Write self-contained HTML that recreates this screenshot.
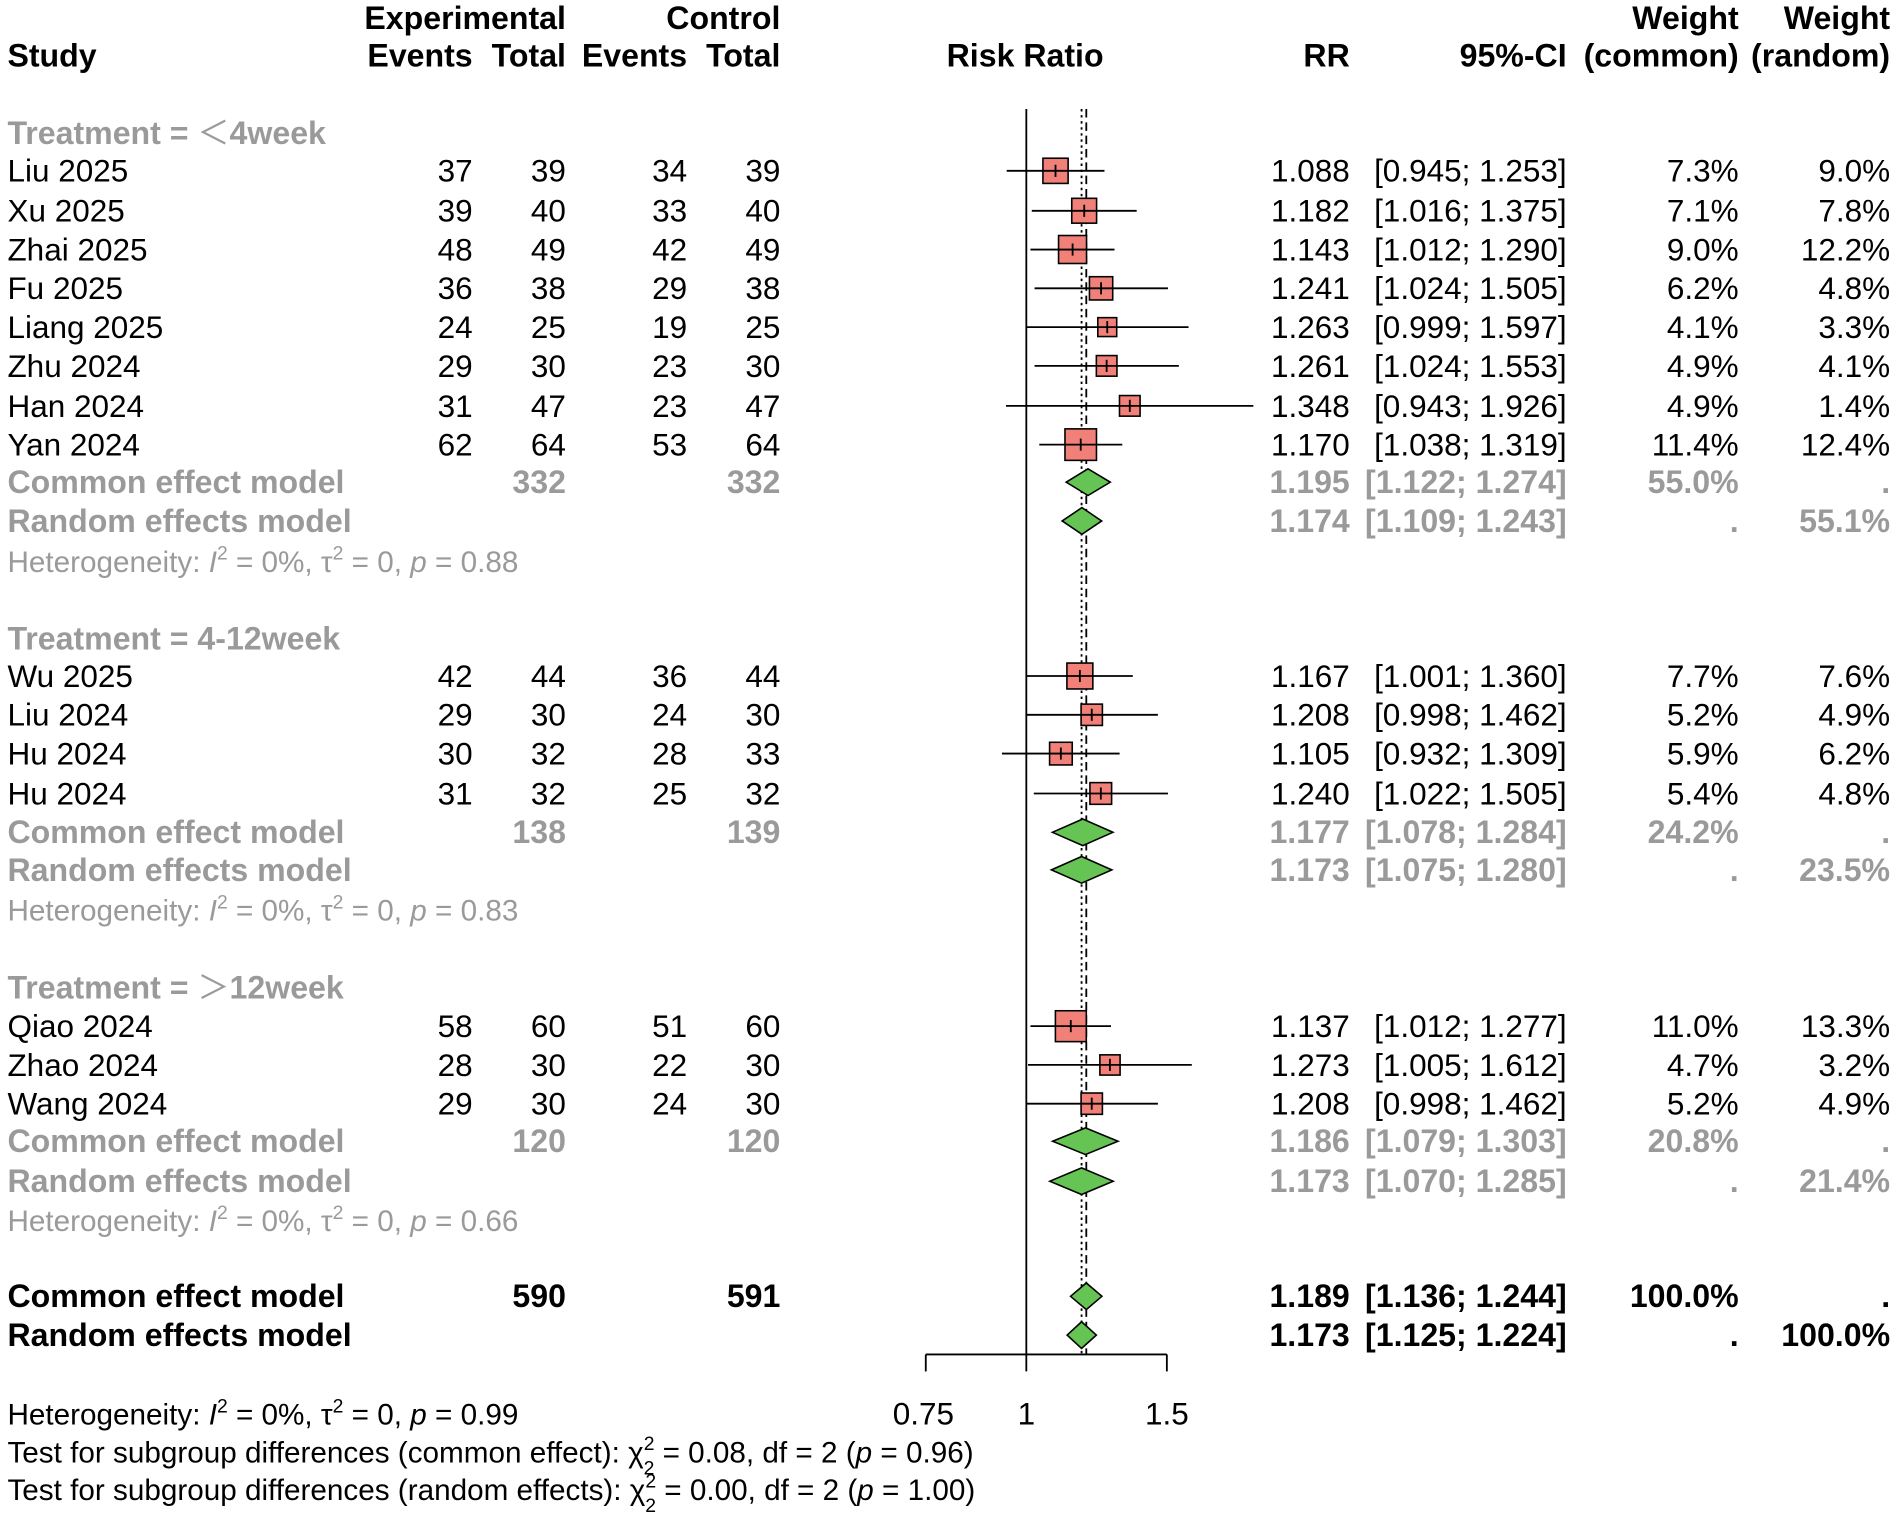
<!DOCTYPE html>
<html><head><meta charset="utf-8"><style>
html,body{margin:0;padding:0;background:#fff}
svg{display:block}
text{font-family:"Liberation Sans",Arial,sans-serif;font-size:26px;fill:#000}
.b{font-weight:bold;font-size:26.5px}
.g{fill:#9a9a9a}
.r{text-anchor:end}
.m{text-anchor:middle}
.sm{font-size:24.5px}
.sq{fill:#f08078;stroke:#000;stroke-width:1.3}
.di{fill:#66c455;stroke:#000;stroke-width:1.3}
.ln{stroke:#000;stroke-width:1.5}
</style></head><body>
<svg width="1900" height="1518" viewBox="0 0 1568 1253" xmlns="http://www.w3.org/2000/svg">
<text class="b r" x="467" y="24">Experimental</text>
<text class="b r" x="644" y="24">Control</text>
<text class="b" x="6" y="55">Study</text>
<text class="b r" x="390" y="55">Events</text>
<text class="b r" x="467" y="55">Total</text>
<text class="b r" x="567" y="55">Events</text>
<text class="b r" x="644" y="55">Total</text>
<text class="b m" x="846" y="55">Risk Ratio</text>
<text class="b r" x="1114" y="55">RR</text>
<text class="b r" x="1293" y="55">95%-CI</text>
<text class="b r" x="1435" y="24">Weight</text>
<text class="b r" x="1560" y="24">Weight</text>
<text class="b r" x="1435" y="55">(common)</text>
<text class="b r" x="1560" y="55">(random)</text>

<line class="ln" x1="847" y1="90" x2="847" y2="1132"/>
<line x1="896.5" y1="90" x2="896.5" y2="1118" stroke="#000" stroke-width="1.5" stroke-dasharray="7,4"/>
<line x1="892.6" y1="90" x2="892.6" y2="1118" stroke="#000" stroke-width="1.5" stroke-dasharray="2,3"/>
<line class="ln" x1="764" y1="1118" x2="963" y2="1118"/>
<line class="ln" x1="764" y1="1118" x2="764" y2="1132"/>
<line class="ln" x1="963" y1="1118" x2="963" y2="1132"/>
<text class="m" x="762" y="1176">0.75</text>
<text class="m" x="847" y="1176">1</text>
<text class="m" x="963" y="1176">1.5</text>

<text class="b g" x="6" y="119">Treatment = <tspan style='font-family:"Noto Sans CJK SC",sans-serif;font-weight:normal'>＜</tspan>4week</text>

<text x="6" y="150">Liu 2025</text><text class="r" x="390" y="150">37</text><text class="r" x="467" y="150">39</text><text class="r" x="567" y="150">34</text><text class="r" x="644" y="150">39</text>
<text class="r" x="1114" y="150">1.088</text><text class="r" x="1293" y="150">[0.945; 1.253]</text><text class="r" x="1435" y="150">7.3%</text><text class="r" x="1560" y="150">9.0%</text>
<rect class="sq" x="860.7" y="130.6" width="20.8" height="20.8"/><line class="ln" x1="830.8" y1="141" x2="911.5" y2="141"/><line class="ln" x1="871.1" y1="136" x2="871.1" y2="146"/>

<text x="6" y="183">Xu 2025</text><text class="r" x="390" y="183">39</text><text class="r" x="467" y="183">40</text><text class="r" x="567" y="183">33</text><text class="r" x="644" y="183">40</text>
<text class="r" x="1114" y="183">1.182</text><text class="r" x="1293" y="183">[1.016; 1.375]</text><text class="r" x="1435" y="183">7.1%</text><text class="r" x="1560" y="183">7.8%</text>
<rect class="sq" x="884.5" y="163.7" width="20.5" height="20.5"/><line class="ln" x1="851.5" y1="174" x2="938.1" y2="174"/><line class="ln" x1="894.8" y1="169" x2="894.8" y2="179"/>

<text x="6" y="215">Zhai 2025</text><text class="r" x="390" y="215">48</text><text class="r" x="467" y="215">49</text><text class="r" x="567" y="215">42</text><text class="r" x="644" y="215">49</text>
<text class="r" x="1114" y="215">1.143</text><text class="r" x="1293" y="215">[1.012; 1.290]</text><text class="r" x="1435" y="215">9.0%</text><text class="r" x="1560" y="215">12.2%</text>
<rect class="sq" x="873.6" y="194.4" width="23.1" height="23.1"/><line class="ln" x1="850.4" y1="206" x2="919.8" y2="206"/><line class="ln" x1="885.2" y1="201" x2="885.2" y2="211"/>

<text x="6" y="247">Fu 2025</text><text class="r" x="390" y="247">36</text><text class="r" x="467" y="247">38</text><text class="r" x="567" y="247">29</text><text class="r" x="644" y="247">38</text>
<text class="r" x="1114" y="247">1.241</text><text class="r" x="1293" y="247">[1.024; 1.505]</text><text class="r" x="1435" y="247">6.2%</text><text class="r" x="1560" y="247">4.8%</text>
<rect class="sq" x="899.1" y="228.4" width="19.2" height="19.2"/><line class="ln" x1="853.8" y1="238" x2="963.9" y2="238"/><line class="ln" x1="908.7" y1="233" x2="908.7" y2="243"/>

<text x="6" y="279">Liang 2025</text><text class="r" x="390" y="279">24</text><text class="r" x="467" y="279">25</text><text class="r" x="567" y="279">19</text><text class="r" x="644" y="279">25</text>
<text class="r" x="1114" y="279">1.263</text><text class="r" x="1293" y="279">[0.999; 1.597]</text><text class="r" x="1435" y="279">4.1%</text><text class="r" x="1560" y="279">3.3%</text>
<rect class="sq" x="906" y="262.2" width="15.6" height="15.6"/><line class="ln" x1="846.7" y1="270" x2="980.9" y2="270"/><line class="ln" x1="913.8" y1="265" x2="913.8" y2="275"/>

<text x="6" y="311">Zhu 2024</text><text class="r" x="390" y="311">29</text><text class="r" x="467" y="311">30</text><text class="r" x="567" y="311">23</text><text class="r" x="644" y="311">30</text>
<text class="r" x="1114" y="311">1.261</text><text class="r" x="1293" y="311">[1.024; 1.553]</text><text class="r" x="1435" y="311">4.9%</text><text class="r" x="1560" y="311">4.1%</text>
<rect class="sq" x="904.8" y="293.5" width="17" height="17"/><line class="ln" x1="853.8" y1="302" x2="972.9" y2="302"/><line class="ln" x1="913.3" y1="297" x2="913.3" y2="307"/>

<text x="6" y="344">Han 2024</text><text class="r" x="390" y="344">31</text><text class="r" x="467" y="344">47</text><text class="r" x="567" y="344">23</text><text class="r" x="644" y="344">47</text>
<text class="r" x="1114" y="344">1.348</text><text class="r" x="1293" y="344">[0.943; 1.926]</text><text class="r" x="1435" y="344">4.9%</text><text class="r" x="1560" y="344">1.4%</text>
<rect class="sq" x="923.9" y="326.5" width="17" height="17"/><line class="ln" x1="830.2" y1="335" x2="1034.4" y2="335"/><line class="ln" x1="932.4" y1="330" x2="932.4" y2="340"/>

<text x="6" y="376">Yan 2024</text><text class="r" x="390" y="376">62</text><text class="r" x="467" y="376">64</text><text class="r" x="567" y="376">53</text><text class="r" x="644" y="376">64</text>
<text class="r" x="1114" y="376">1.170</text><text class="r" x="1293" y="376">[1.038; 1.319]</text><text class="r" x="1435" y="376">11.4%</text><text class="r" x="1560" y="376">12.4%</text>
<rect class="sq" x="878.9" y="354" width="26" height="26"/><line class="ln" x1="857.7" y1="367" x2="926.2" y2="367"/><line class="ln" x1="891.9" y1="362" x2="891.9" y2="372"/>

<text class="b g" x="6" y="407">Common effect model</text><text class="b g r" x="467" y="407">332</text><text class="b g r" x="644" y="407">332</text>
<text class="b g r" x="1114" y="407">1.195</text><text class="b g r" x="1293" y="407">[1.122; 1.274]</text><text class="b g r" x="1435" y="407">55.0%</text><text class="b g r" x="1560" y="407">.</text>
<polygon class="di" points="879.9,398 897.9,387 916.3,398 897.9,409"/>
<text class="b g" x="6" y="439">Random effects model</text>
<text class="b g r" x="1114" y="439">1.174</text><text class="b g r" x="1293" y="439">[1.109; 1.243]</text><text class="b g r" x="1435" y="439">.</text><text class="b g r" x="1560" y="439">55.1%</text>
<polygon class="di" points="876.6,430 892.9,419 909.2,430 892.9,441"/>
<text class="g sm" x="6" y="472">Heterogeneity: <tspan font-style="italic">I</tspan><tspan dy="-10" font-size="16">2</tspan><tspan dy="10"> = 0%, τ</tspan><tspan dy="-10" font-size="16">2</tspan><tspan dy="10"> = 0, </tspan><tspan font-style="italic">p</tspan> = 0.88</text>

<text class="b g" x="6" y="536">Treatment = 4-12week</text>
<text x="6" y="567">Wu 2025</text><text class="r" x="390" y="567">42</text><text class="r" x="467" y="567">44</text><text class="r" x="567" y="567">36</text><text class="r" x="644" y="567">44</text>
<text class="r" x="1114" y="567">1.167</text><text class="r" x="1293" y="567">[1.001; 1.360]</text><text class="r" x="1435" y="567">7.7%</text><text class="r" x="1560" y="567">7.6%</text>
<rect class="sq" x="880.5" y="547.3" width="21.4" height="21.4"/><line class="ln" x1="847.3" y1="558" x2="934.9" y2="558"/><line class="ln" x1="891.2" y1="553" x2="891.2" y2="563"/>

<text x="6" y="599">Liu 2024</text><text class="r" x="390" y="599">29</text><text class="r" x="467" y="599">30</text><text class="r" x="567" y="599">24</text><text class="r" x="644" y="599">30</text>
<text class="r" x="1114" y="599">1.208</text><text class="r" x="1293" y="599">[0.998; 1.462]</text><text class="r" x="1435" y="599">5.2%</text><text class="r" x="1560" y="599">4.9%</text>
<rect class="sq" x="892.2" y="581.2" width="17.6" height="17.6"/><line class="ln" x1="846.4" y1="590" x2="955.6" y2="590"/><line class="ln" x1="901" y1="585" x2="901" y2="595"/>

<text x="6" y="631">Hu 2024</text><text class="r" x="390" y="631">30</text><text class="r" x="467" y="631">32</text><text class="r" x="567" y="631">28</text><text class="r" x="644" y="631">33</text>
<text class="r" x="1114" y="631">1.105</text><text class="r" x="1293" y="631">[0.932; 1.309]</text><text class="r" x="1435" y="631">5.9%</text><text class="r" x="1560" y="631">6.2%</text>
<rect class="sq" x="866.2" y="612.7" width="18.7" height="18.7"/><line class="ln" x1="826.9" y1="622" x2="924" y2="622"/><line class="ln" x1="875.5" y1="617" x2="875.5" y2="627"/>

<text x="6" y="664">Hu 2024</text><text class="r" x="390" y="664">31</text><text class="r" x="467" y="664">32</text><text class="r" x="567" y="664">25</text><text class="r" x="644" y="664">32</text>
<text class="r" x="1114" y="664">1.240</text><text class="r" x="1293" y="664">[1.022; 1.505]</text><text class="r" x="1435" y="664">5.4%</text><text class="r" x="1560" y="664">4.8%</text>
<rect class="sq" x="899.5" y="646" width="17.9" height="17.9"/><line class="ln" x1="853.2" y1="655" x2="963.9" y2="655"/><line class="ln" x1="908.5" y1="650" x2="908.5" y2="660"/>

<text class="b g" x="6" y="696">Common effect model</text><text class="b g r" x="467" y="696">138</text><text class="b g r" x="644" y="696">139</text>
<text class="b g r" x="1114" y="696">1.177</text><text class="b g r" x="1293" y="696">[1.078; 1.284]</text><text class="b g r" x="1435" y="696">24.2%</text><text class="b g r" x="1560" y="696">.</text>
<polygon class="di" points="868.5,687 893.6,676 918.5,687 893.6,698"/>
<text class="b g" x="6" y="727">Random effects model</text>
<text class="b g r" x="1114" y="727">1.173</text><text class="b g r" x="1293" y="727">[1.075; 1.280]</text><text class="b g r" x="1435" y="727">.</text><text class="b g r" x="1560" y="727">23.5%</text>
<polygon class="di" points="867.7,718 892.6,707 917.6,718 892.6,729"/>
<text class="g sm" x="6" y="760">Heterogeneity: <tspan font-style="italic">I</tspan><tspan dy="-10" font-size="16">2</tspan><tspan dy="10"> = 0%, τ</tspan><tspan dy="-10" font-size="16">2</tspan><tspan dy="10"> = 0, </tspan><tspan font-style="italic">p</tspan> = 0.83</text>

<text class="b g" x="6" y="824">Treatment = <tspan style='font-family:"Noto Sans CJK SC",sans-serif;font-weight:normal'>＞</tspan>12week</text>
<text x="6" y="856">Qiao 2024</text><text class="r" x="390" y="856">58</text><text class="r" x="467" y="856">60</text><text class="r" x="567" y="856">51</text><text class="r" x="644" y="856">60</text>
<text class="r" x="1114" y="856">1.137</text><text class="r" x="1293" y="856">[1.012; 1.277]</text><text class="r" x="1435" y="856">11.0%</text><text class="r" x="1560" y="856">13.3%</text>
<rect class="sq" x="871" y="834.3" width="25.5" height="25.5"/><line class="ln" x1="850.4" y1="847" x2="916.9" y2="847"/><line class="ln" x1="883.7" y1="842" x2="883.7" y2="852"/>

<text x="6" y="888">Zhao 2024</text><text class="r" x="390" y="888">28</text><text class="r" x="467" y="888">30</text><text class="r" x="567" y="888">22</text><text class="r" x="644" y="888">30</text>
<text class="r" x="1114" y="888">1.273</text><text class="r" x="1293" y="888">[1.005; 1.612]</text><text class="r" x="1435" y="888">4.7%</text><text class="r" x="1560" y="888">3.2%</text>
<rect class="sq" x="907.7" y="870.7" width="16.7" height="16.7"/><line class="ln" x1="848.4" y1="879" x2="983.6" y2="879"/><line class="ln" x1="916" y1="874" x2="916" y2="884"/>

<text x="6" y="920">Wang 2024</text><text class="r" x="390" y="920">29</text><text class="r" x="467" y="920">30</text><text class="r" x="567" y="920">24</text><text class="r" x="644" y="920">30</text>
<text class="r" x="1114" y="920">1.208</text><text class="r" x="1293" y="920">[0.998; 1.462]</text><text class="r" x="1435" y="920">5.2%</text><text class="r" x="1560" y="920">4.9%</text>
<rect class="sq" x="892.2" y="902.2" width="17.6" height="17.6"/><line class="ln" x1="846.4" y1="911" x2="955.6" y2="911"/><line class="ln" x1="901" y1="906" x2="901" y2="916"/>

<text class="b g" x="6" y="951">Common effect model</text><text class="b g r" x="467" y="951">120</text><text class="b g r" x="644" y="951">120</text>
<text class="b g r" x="1114" y="951">1.186</text><text class="b g r" x="1293" y="951">[1.079; 1.303]</text><text class="b g r" x="1435" y="951">20.8%</text><text class="b g r" x="1560" y="951">.</text>
<polygon class="di" points="868.7,942 895.8,931 922.7,942 895.8,953"/>
<text class="b g" x="6" y="984">Random effects model</text>
<text class="b g r" x="1114" y="984">1.173</text><text class="b g r" x="1293" y="984">[1.070; 1.285]</text><text class="b g r" x="1435" y="984">.</text><text class="b g r" x="1560" y="984">21.4%</text>
<polygon class="di" points="866.4,975 892.6,964 918.7,975 892.6,986"/>
<text class="g sm" x="6" y="1016">Heterogeneity: <tspan font-style="italic">I</tspan><tspan dy="-10" font-size="16">2</tspan><tspan dy="10"> = 0%, τ</tspan><tspan dy="-10" font-size="16">2</tspan><tspan dy="10"> = 0, </tspan><tspan font-style="italic">p</tspan> = 0.66</text>

<text class="b" x="6" y="1079">Common effect model</text><text class="b r" x="467" y="1079">590</text><text class="b r" x="644" y="1079">591</text>
<text class="b r" x="1114" y="1079">1.189</text><text class="b r" x="1293" y="1079">[1.136; 1.244]</text><text class="b r" x="1435" y="1079">100.0%</text><text class="b r" x="1560" y="1079">.</text>
<polygon class="di" points="883.5,1070 896.5,1059 909.4,1070 896.5,1081"/>
<text class="b" x="6" y="1111">Random effects model</text>
<text class="b r" x="1114" y="1111">1.173</text><text class="b r" x="1293" y="1111">[1.125; 1.224]</text><text class="b r" x="1435" y="1111">.</text><text class="b r" x="1560" y="1111">100.0%</text>
<polygon class="di" points="880.7,1102 892.6,1091 904.8,1102 892.6,1113"/>

<text class="sm" x="6" y="1176">Heterogeneity: <tspan font-style="italic">I</tspan><tspan dy="-10" font-size="16">2</tspan><tspan dy="10"> = 0%, τ</tspan><tspan dy="-10" font-size="16">2</tspan><tspan dy="10"> = 0, </tspan><tspan font-style="italic">p</tspan> = 0.99</text>
<text class="sm" x="6" y="1207">Test for subgroup differences (common effect): χ<tspan dy="-10" font-size="16">2</tspan><tspan dx="-9" dy="20" font-size="16">2</tspan><tspan dy="-10"> = 0.08, df = 2 (</tspan><tspan font-style="italic">p</tspan> = 0.96)</text>
<text class="sm" x="6" y="1238">Test for subgroup differences (random effects): χ<tspan dy="-10" font-size="16">2</tspan><tspan dx="-9" dy="20" font-size="16">2</tspan><tspan dy="-10"> = 0.00, df = 2 (</tspan><tspan font-style="italic">p</tspan> = 1.00)</text>
</svg>
</body></html>
